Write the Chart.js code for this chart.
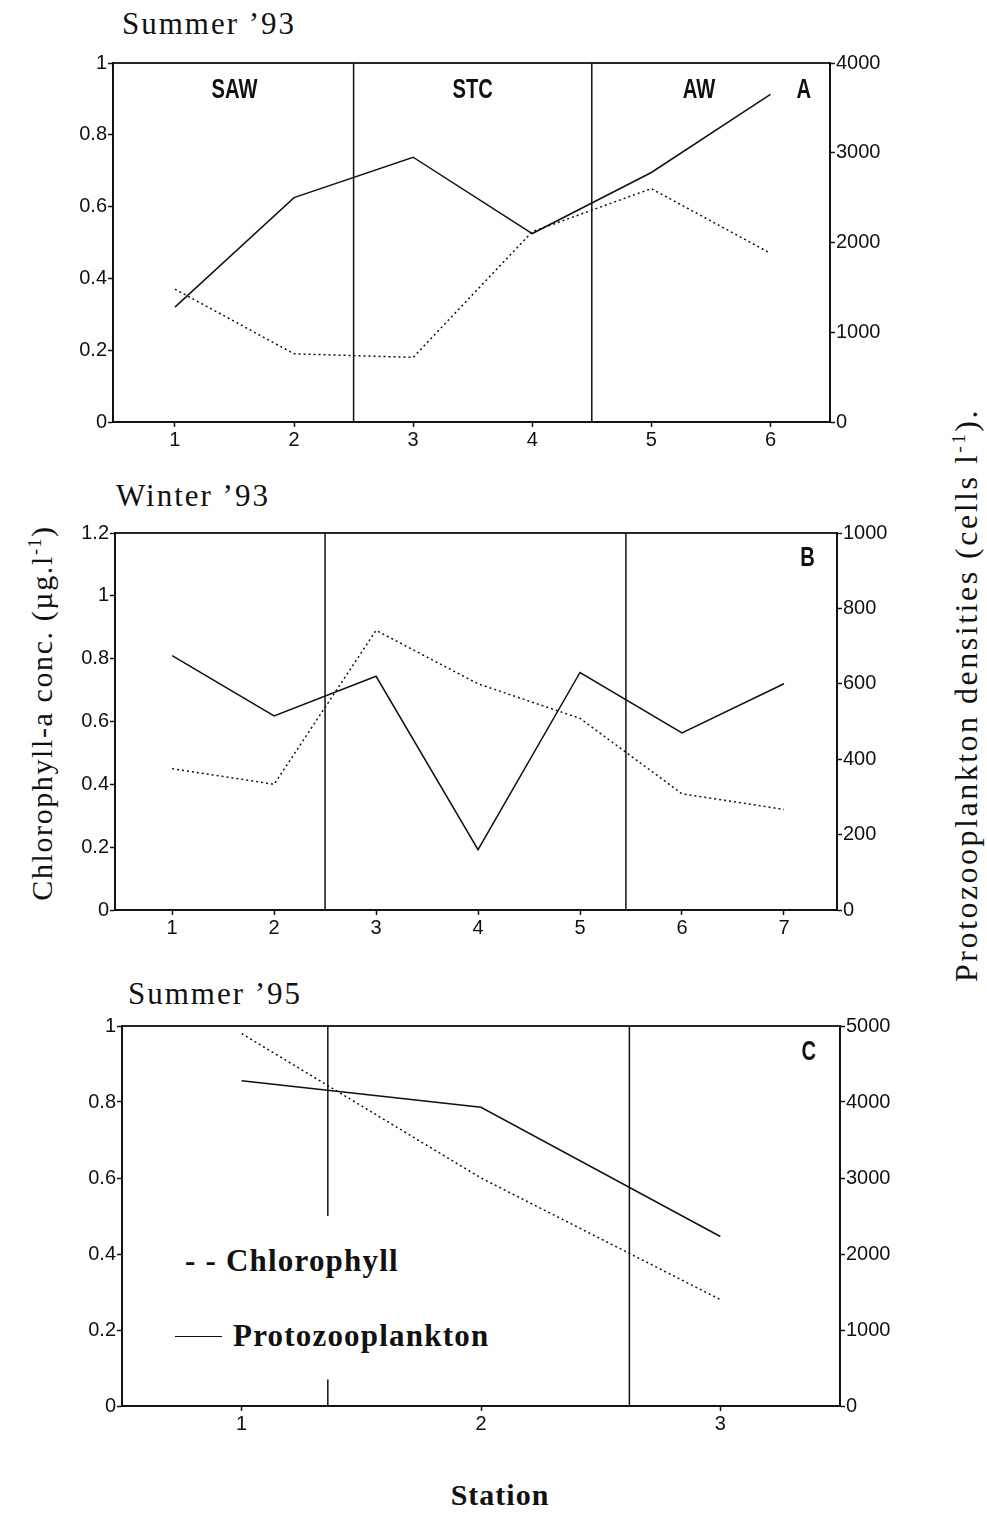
<!DOCTYPE html>
<html>
<head>
<meta charset="utf-8">
<script src="https://cdn.jsdelivr.net/npm/chart.js@4"></script>
<style>
  body { margin: 0; background: #fff; width: 987px; height: 1513px; position: relative; overflow: hidden; }
  .box { position: absolute; }
  .serif { position: absolute; font-family: "Liberation Serif", "DejaVu Serif", serif; color: #111; white-space: nowrap; }
  .title { font-size: 31px; letter-spacing: 2px; }
  .rot { transform: translate(-50%, -50%) rotate(-90deg); }
  sup { font-size: 60%; }
</style>
</head>
<body>
<div class="serif title" style="left:122px; top:6px;">Summer ’93</div>
<div class="serif title" style="left:116px; top:478px;">Winter ’93</div>
<div class="serif title" style="left:128px; top:976px;">Summer ’95</div>

<div class="serif rot" style="left:42px; top:713px; font-size:30px; letter-spacing:1.6px;">Chlorophyll-a conc. (µg.l<sup>-1</sup>)</div>
<div class="serif rot" style="left:966px; top:695px; font-size:32px; letter-spacing:2.5px;">Protozooplankton densities (cells l<sup>-1</sup>).</div>
<div class="serif" style="left:500px; top:1478px; transform: translateX(-50%); font-size:30px; font-weight:bold; letter-spacing:1px;">Station</div>

<div class="serif" style="left:185px; top:1243px; font-size:31px; font-weight:bold; letter-spacing:1.2px;">- - Chlorophyll</div>
<div style="position:absolute; left:175px; top:1336px; width:47px; border-top:1.5px solid #111;"></div>
<div class="serif" style="left:233px; top:1318px; font-size:31px; font-weight:bold; letter-spacing:1.2px;">Protozooplankton</div>

<div class="box" id="boxA"><canvas id="chartA"></canvas></div>
<div class="box" id="boxB"><canvas id="chartB"></canvas></div>
<div class="box" id="boxC"><canvas id="chartC"></canvas></div>

<script>
// Summer '93
const stationsA = [1, 2, 3, 4, 5, 6];
const chlA = [0.37, 0.19, 0.18, 0.53, 0.65, 0.47];
const protoA = [1280, 2500, 2950, 2100, 2780, 3650];

// Winter '93
const stationsB = [1, 2, 3, 4, 5, 6, 7];
const chlB = [0.45, 0.40, 0.89, 0.72, 0.61, 0.37, 0.32];
const protoB = [675, 515, 620, 160, 630, 470, 600];

// Summer '95
const stationsC = [1, 2, 3];
const chlC = [0.98, 0.60, 0.28];
const protoC = [4280, 3930, 2230];

// water mass boundaries: [station, from chl, to chl]
const dividersA = [[2.5, 0, 1], [4.5, 0, 1]];
const dividersB = [[2.5, 0, 1.2], [5.45, 0, 1.2]];
const dividersC = [[1.36, 0.5, 1], [1.36, 0, 0.07], [2.62, 0, 1]];

const labelsA = [['SAW', 1.5, 0.925], ['STC', 3.5, 0.925], ['AW', 5.4, 0.925], ['A', 6.28, 0.925]];
const labelsB = [['B', 7.23, 1.12]];
const labelsC = [['C', 3.37, 0.93]];

// frame, boundary lines and bold region letters
const panelDecor = {
    id: 'panelDecor',
    afterDatasetsDraw(chart, args, opts) {
        const { ctx, chartArea: a, scales: { x, y } } = chart;
        ctx.save();
        ctx.strokeStyle = '#111';
        ctx.lineWidth = 1.8;
        ctx.strokeRect(a.left, a.top, a.right - a.left, a.bottom - a.top);
        ctx.lineWidth = 1.5;
        opts.dividers.forEach(([v, y0, y1]) => {
            const px = x.getPixelForValue(v);
            ctx.beginPath();
            ctx.moveTo(px, y.getPixelForValue(y0));
            ctx.lineTo(px, y.getPixelForValue(y1));
            ctx.stroke();
        });
        ctx.fillStyle = '#111';
        ctx.font = 'bold 28px "Liberation Sans", Arial, sans-serif';
        ctx.textAlign = 'center';
        ctx.textBaseline = 'middle';
        opts.labels.forEach(([t, xv, yv]) => {
            ctx.save();
            ctx.translate(x.getPixelForValue(xv), y.getPixelForValue(yv));
            ctx.scale(0.72, 1);
            ctx.fillText(t, 0, 0);
            ctx.restore();
        });
        ctx.restore();
    }
};

const tickFont = { family: '"Liberation Sans", Arial, sans-serif', size: 20 };
const plainNum = v => String(Math.round(v * 10) / 10);

function makePanel(id, boxId, area, stations, chl, proto, xr, yMax, yStep, rMax, rStep, dividers, labels) {
    const box = document.getElementById(boxId);
    box.style.left = (area.left - 60) + 'px';
    box.style.top = (area.top - 14) + 'px';
    box.style.width = (area.right - area.left + 60 + 80) + 'px';
    box.style.height = (area.bottom - area.top + 14 + 35) + 'px';

    const axisCommon = {
        border: { display: true, color: '#111', width: 1.8 },
        grid: { drawOnChartArea: false, color: '#111', tickLength: 5, tickWidth: 1.5 },
        ticks: { color: '#111', font: tickFont, padding: 1, callback: plainNum }
    };

    new Chart(document.getElementById(id), {
        type: 'line',
        data: {
            datasets: [
                { label: 'Chlorophyll', data: stations.map((s, i) => ({ x: s, y: chl[i] })), yAxisID: 'y',
                  borderColor: '#111', borderWidth: 1.5, borderDash: [2, 3], pointRadius: 0, tension: 0 },
                { label: 'Protozooplankton', data: stations.map((s, i) => ({ x: s, y: proto[i] })), yAxisID: 'y2',
                  borderColor: '#111', borderWidth: 1.5, pointRadius: 0, tension: 0 }
            ]
        },
        options: {
            responsive: true,
            maintainAspectRatio: false,
            animation: false,
            layout: { padding: { top: 14, left: 0, right: 0, bottom: 0 } },
            plugins: { legend: { display: false }, tooltip: { enabled: false },
                       panelDecor: { dividers: dividers, labels: labels } },
            scales: {
                x: { ...axisCommon, type: 'linear', min: xr[0], max: xr[1],
                     afterBuildTicks: s => { s.ticks = stations.map(v => ({ value: v })); },
                     afterFit: s => { s.height = 35; } },
                y: { ...axisCommon, position: 'left', min: 0, max: yMax,
                     ticks: { ...axisCommon.ticks, stepSize: yStep },
                     afterFit: s => { s.width = 60; } },
                y2: { ...axisCommon, position: 'right', min: 0, max: rMax,
                      ticks: { ...axisCommon.ticks, stepSize: rStep },
                      afterFit: s => { s.width = 80; } }
            }
        },
        plugins: [panelDecor]
    });
}

makePanel('chartA', 'boxA', { left: 113, right: 830, top: 63, bottom: 422 },
    stationsA, chlA, protoA, [0.48, 6.5], 1, 0.2, 4000, 1000, dividersA, labelsA);
makePanel('chartB', 'boxB', { left: 115, right: 837, top: 533, bottom: 910 },
    stationsB, chlB, protoB, [0.44, 7.52], 1.2, 0.2, 1000, 200, dividersB, labelsB);
makePanel('chartC', 'boxC', { left: 122, right: 840, top: 1026, bottom: 1406 },
    stationsC, chlC, protoC, [0.5, 3.5], 1, 0.2, 5000, 1000, dividersC, labelsC);
</script>
</body>
</html>
